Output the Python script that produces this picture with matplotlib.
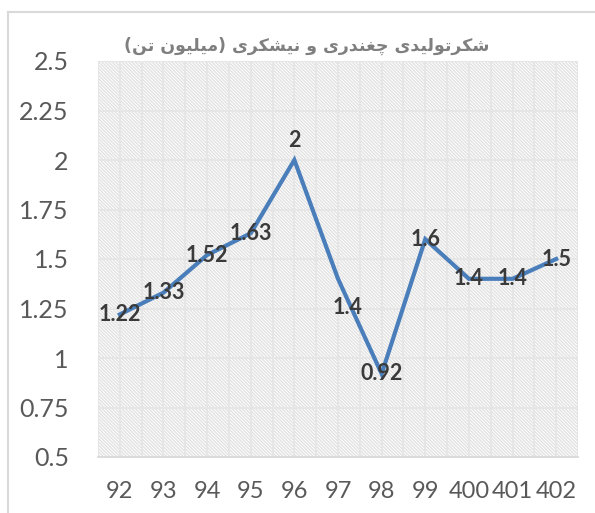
import matplotlib
matplotlib.use('Agg')
import matplotlib.pyplot as plt
from matplotlib.patches import Rectangle
from matplotlib.lines import Line2D

# data
years = ['92', '93', '94', '95', '96', '97', '98', '99', '400', '401', '402']
production = [1.22, 1.33, 1.52, 1.63, 2.0, 1.4, 0.92, 1.6, 1.4, 1.4, 1.5]
value_labels = ['1.22', '1.33', '1.52', '1.63', '2', '1.4', '0.92', '1.6', '1.4', '1.4', '1.5']
y_ticks = [0.5, 0.75, 1, 1.25, 1.5, 1.75, 2, 2.25, 2.5]
y_ticklabels = ['0.5', '0.75', '1', '1.25', '1.5', '1.75', '2', '2.25', '2.5']
title = 'شکرتولیدی چغندری و نیشکری (میلیون تن)'

# label nudges in points (most labels sit centred on the point)
label_offsets = [(0, 0), (0, 0), (0, 0), (0, 0), (0, 14), (7, -21), (0, 0), (0, 0), (0, 0), (0, 0), (0, 0)]

# --- minimal Persian shaping (no arabic_reshaper available) ---
# char: (isolated, final, initial, medial) ; right-joining letters have only 2 forms
FORMS = {
    'ش': ('\uFEB5', '\uFEB6', '\uFEB7', '\uFEB8'),
    'ک': ('\uFB8E', '\uFB8F', '\uFB90', '\uFB91'),
    'ت': ('\uFE95', '\uFE96', '\uFE97', '\uFE98'),
    'ل': ('\uFEDD', '\uFEDE', '\uFEDF', '\uFEE0'),
    'ی': ('\uFBFC', '\uFBFD', '\uFBFE', '\uFBFF'),
    'چ': ('\uFB7A', '\uFB7B', '\uFB7C', '\uFB7D'),
    'غ': ('\uFECD', '\uFECE', '\uFECF', '\uFED0'),
    'ن': ('\uFEE5', '\uFEE6', '\uFEE7', '\uFEE8'),
    'م': ('\uFEE1', '\uFEE2', '\uFEE3', '\uFEE4'),
    'ر': ('\uFEAD', '\uFEAE'),
    'و': ('\uFEED', '\uFEEE'),
    'د': ('\uFEA9', '\uFEAA'),
}


def shape_rtl(text):
    out = []
    for i, ch in enumerate(text):
        if ch not in FORMS:
            out.append(ch)
            continue
        prev = text[i - 1] if i > 0 else ''
        nxt = text[i + 1] if i + 1 < len(text) else ''
        join_prev = prev in FORMS and len(FORMS[prev]) == 4
        join_next = len(FORMS[ch]) == 4 and nxt in FORMS
        f = FORMS[ch]
        if join_prev and join_next:
            out.append(f[3])
        elif join_prev:
            out.append(f[1])
        elif join_next:
            out.append(f[2])
        else:
            out.append(f[0])
    vis = ''.join(reversed(out))
    return vis.translate(str.maketrans('()', ')('))


plt.rcParams['font.family'] = ['Lato', 'DejaVu Sans']
plt.rcParams['hatch.linewidth'] = 1.0

fig = plt.figure(figsize=(5.95, 5.13), dpi=100)
fig.patch.set_facecolor('white')

# chart-area border (only top & left visible in the crop)
fig.add_artist(Line2D([8 / 595, 8 / 595], [0, 1 - 12 / 513], transform=fig.transFigure,
                      color='#d9d9d9', lw=1.5))
fig.add_artist(Line2D([8 / 595, 1], [1 - 12 / 513, 1 - 12 / 513], transform=fig.transFigure,
                      color='#d9d9d9', lw=1.5))

ax = fig.add_axes([98 / 595, 1 - 457 / 513, 480 / 595, 396 / 513])
ax.set_facecolor('white')
ax.add_patch(Rectangle((0, 0), 1, 1, transform=ax.transAxes, facecolor='white',
                       edgecolor='#e2e2e2', hatch='\\' * 10, lw=0, zorder=0))

x = list(range(len(years)))
ax.plot(x, production, color='#4a7ebb', lw=3, solid_joinstyle='miter', zorder=3)

for xi, yi, lab, off in zip(x, production, value_labels, label_offsets):
    ax.annotate(lab, (xi, yi), xytext=off, textcoords='offset points',
                ha='center', va='center', fontsize=15.5, fontweight='bold',
                color='#3a3a3a', zorder=4)

ax.set_xlim(-0.5, len(years) - 0.5)
ax.set_ylim(0.5, 2.5)

ax.set_yticks(y_ticks)
ax.set_yticklabels(y_ticklabels)
ax.set_xticks(x)
ax.set_xticklabels(years)
ax.tick_params(axis='y', length=0, pad=21, labelsize=18, labelcolor='#595959')
ax.tick_params(axis='x', length=0, pad=17, labelsize=17, labelcolor='#595959')

# gridlines: every 0.25 on y, every half category on x
for v in y_ticks:
    ax.axhline(v, color='#e6e6e6', lw=1.4, zorder=1)
for k in range(2 * len(years) + 1):
    ax.axvline(-0.5 + 0.5 * k, color='#e6e6e6', lw=1.4, zorder=1)

for s in ['top', 'right', 'left']:
    ax.spines[s].set_visible(False)
ax.spines['bottom'].set_color('#d9d9d9')
ax.spines['bottom'].set_linewidth(1.3)

fig.text(307 / 595, 1 - 46 / 513, shape_rtl(title), ha='center', va='center',
         fontsize=12.5, fontweight='bold', color='#7f7f7f', family=['DejaVu Sans'])

fig.savefig('out.png', dpi=100)
